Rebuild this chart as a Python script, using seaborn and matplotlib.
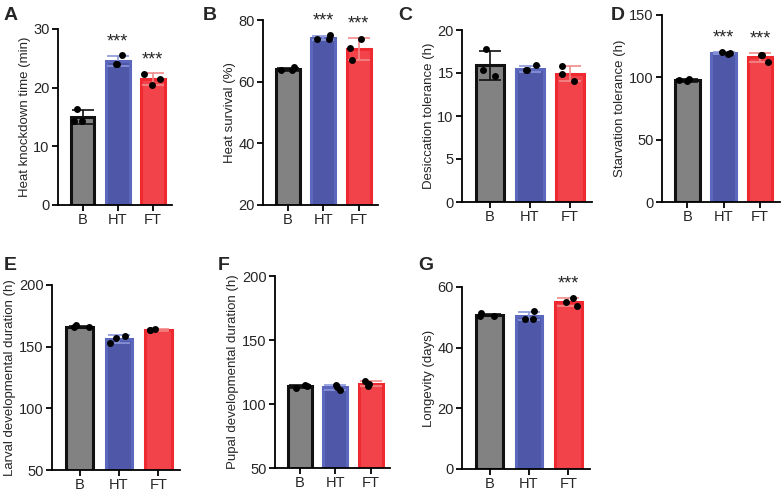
import numpy as np
import pandas as pd
import seaborn as sns
import matplotlib.pyplot as plt

sns.set_style('ticks')
plt.rcParams['font.family'] = ['Liberation Sans', 'DejaVu Sans']

groups = ['B', 'HT', 'FT']

# replicate values per group (3 each)
heat_knockdown = [[16.3, 14.3, 14.3], [25.5, 24.0, 24.0], [22.4, 20.5, 21.5]]
heat_survival = [[64.6, 63.7, 63.7], [75.0, 73.8, 73.8], [73.9, 70.8, 66.9]]
desiccation = [[17.8, 15.3, 14.6], [15.9, 15.3, 15.3], [15.8, 14.9, 14.1]]
starvation = [[99.0, 97.5, 96.8], [120.5, 119.2, 118.6], [118.2, 118.2, 112.0]]
larval = [[165.7, 167.3, 165.7], [158.6, 152.7, 157.0], [163.2, 164.0, 163.2]]
pupal = [[112.5, 115.0, 114.0], [111.1, 114.5, 113.4], [113.7, 117.8, 116.0]]
longevity = [[50.5, 51.3, 50.5], [52.0, 49.6, 49.6], [56.4, 53.7, 55.1]]

panels = [
    ('A', heat_knockdown, 'Heat knockdown time (min)', (0, 30), [0, 10, 20, 30], ['HT', 'FT']),
    ('B', heat_survival, 'Heat survival (%)', (20, 80), [20, 40, 60, 80], ['HT', 'FT']),
    ('C', desiccation, 'Desiccation tolerance (h)', (0, 20), [0, 5, 10, 15, 20], []),
    ('D', starvation, 'Starvation tolerance (h)', (0, 150), [0, 50, 100, 150], ['HT', 'FT']),
    ('E', larval, 'Larval developmental duration (h)', (50, 200), [50, 100, 150, 200], []),
    ('F', pupal, 'Pupal developmental duration (h)', (50, 200), [50, 100, 150, 200], []),
    ('G', longevity, 'Longevity (days)', (0, 60), [0, 20, 40, 60], ['FT']),
]

# axes boxes in pixels: left, right, top, bottom; letter position
boxes = [(58, 172, 29, 205), (263, 378, 20, 205), (462, 592, 30, 202), (662, 780, 15, 202),
         (52, 180, 285, 470), (275, 390, 276, 468), (462, 590, 287, 469)]
letter_pos = [(4, 15), (203, 15), (398, 15), (611, 15), (4, 265), (218, 265), (418, 266)]

fill = {'B': '#828282', 'HT': '#4F57A8', 'FT': '#F2424A'}
edge = {'B': '#111111', 'HT': '#5B68BE', 'FT': '#EE2A30'}
errc = {'B': '#111111', 'HT': '#8A96DA', 'FT': '#F28A8A'}

W, H = 784, 496
fig = plt.figure(figsize=(W / 100, H / 100), dpi=100)
np.random.seed(11)

for (letter, vals, ylabel, ylim, yticks, sig), (l, r, t, b), (lx, ly) in zip(panels, boxes, letter_pos):
    ax = fig.add_axes([l / W, 1 - b / H, (r - l) / W, (b - t) / H])
    df = pd.DataFrame({'group': np.repeat(groups, 3), 'value': np.concatenate(vals)})
    sns.barplot(data=df, x='group', y='value', hue='group', palette=fill, order=groups,
                errorbar=None, width=0.68, linewidth=2.2, saturation=1, legend=False, ax=ax)
    for p, g in zip(ax.patches, groups):
        p.set_edgecolor(edge[g])
    stats = df.groupby('group')['value'].agg(['mean', 'std']).loc[groups]
    for i, g in enumerate(groups):
        ax.errorbar(i, stats.loc[g, 'mean'], yerr=stats.loc[g, 'std'], color=errc[g],
                    capsize=8, elinewidth=1.2, capthick=1.2, zorder=3)
    sns.stripplot(data=df, x='group', y='value', order=groups, color='black', size=5,
                  jitter=0.25, ax=ax, zorder=4)
    span = ylim[1] - ylim[0]
    for g in sig:
        i = groups.index(g)
        top = max(stats.loc[g, 'mean'] + stats.loc[g, 'std'], max(vals[i]))
        ax.text(i, top + span * 0.03, '***', ha='center', va='bottom', fontsize=13)
    ax.set_ylim(*ylim)
    ax.set_yticks(yticks)
    ax.set_xlim(-0.7, 2.55)
    ax.set_xlabel('')
    ax.set_ylabel(ylabel, fontsize=9.5, labelpad=2)
    ax.tick_params(axis='both', labelsize=10.5, width=1.3, length=4, color='black', pad=2)
    sns.despine(ax=ax)
    for s in ['left', 'bottom']:
        ax.spines[s].set_linewidth(1.3)
        ax.spines[s].set_color('black')
    fig.text(lx / W, 1 - ly / H, letter, fontsize=14, fontweight='bold', ha='left', va='center')

fig.savefig('out.png', dpi=100)
